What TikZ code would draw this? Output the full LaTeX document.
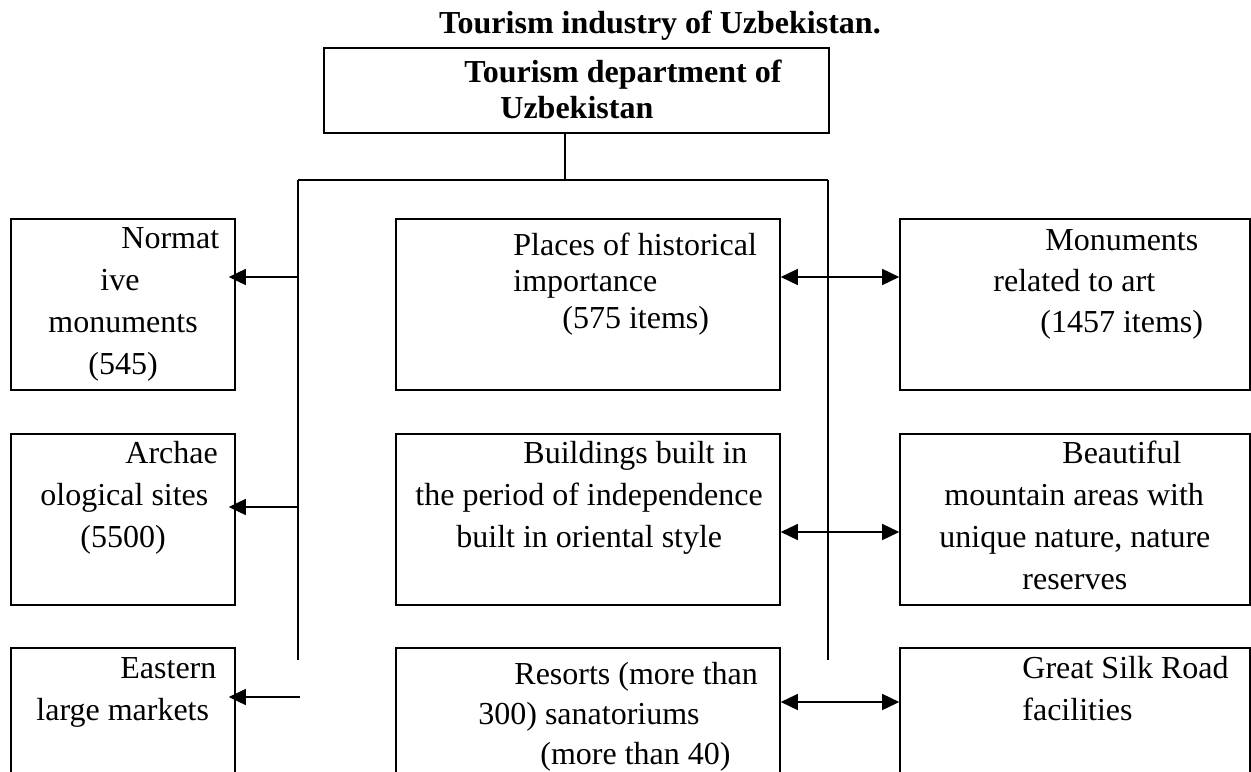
\documentclass[tikz,border=0pt]{standalone}
\usepackage{fontspec}
\setmainfont{Liberation Serif}
\usepackage{tikz}
\usetikzlibrary{arrows.meta}
\tikzstyle{box} = [rectangle, draw, line width=0.8pt, inner sep=0pt, minimum height=85.5pt]
\tikzstyle{leftbox} = [box, minimum width=112pt]
\tikzstyle{midbox} = [box, minimum width=192pt]
\tikzstyle{rightbox} = [box, minimum width=175pt]
\tikzstyle{boxtext} = [anchor=north west, inner sep=0pt, align=left, font=\fontsize{16}{21}\selectfont]
\tikzstyle{wire} = [line width=0.75pt]
\tikzstyle{arrow} = [wire, -{Triangle[length=8.5pt,width=8pt]}]
\tikzstyle{biarrow} = [wire, {Triangle[length=8.5pt,width=8pt]}-{Triangle[length=8.5pt,width=8pt]}]

\begin{document}
\begin{tikzpicture}[x=0.5pt, y=-0.5pt]
\useasboundingbox (0,0) rectangle (1251,771);
\clip (0,0) rectangle (1251,771);

% Title
\node (title) at (660,26) {\fontsize{16}{18}\selectfont\bfseries Tourism industry of Uzbekistan.};

% Department
\node (dept) [box, minimum width=252.5pt, minimum height=42.5pt] at (576.5,90.5) {};
\node (deptt) [boxtext, font=\fontsize{16}{18}\selectfont\bfseries] at (464,56.8) {\strut Tourism department of\\\hspace*{18pt}Uzbekistan};

% Left column
\node (norm) [leftbox] at (123,304.5) {};
\node (normt) [boxtext] at (48,218.6) {\strut\hspace*{36.5pt}Normat\\\hspace*{26pt}ive\\monuments\\\hspace*{20pt}(545)};
\node (arch) [leftbox] at (123,519.5) {};
\node (archt) [boxtext] at (40,433.6) {\strut\hspace*{42.5pt}Archae\\ological sites\\\hspace*{20pt}(5500)};
\node (mark) [leftbox] at (123,733.5) {};
\node (markt) [boxtext] at (36,648.6) {\strut\hspace*{42pt}Eastern\\large markets};

% Middle column
\node (hist) [midbox] at (588,304.5) {};
\node (histt) [boxtext, font=\fontsize{16}{18.25}\selectfont] at (513,229.5) {\strut Places of historical\\importance\\\hspace*{24.5pt}(575 items)};
\node (indep) [midbox] at (588,519.5) {};
\node (indept) [boxtext] at (415,433.6) {\strut\hspace*{54pt}Buildings built in\\the period of independence\\\hspace*{20.5pt}built in oriental style};
\node (resort) [midbox] at (588,733.5) {};
\node (resortt) [boxtext, font=\fontsize{16}{20}\selectfont] at (478,655.6) {\strut\hspace*{18pt}Resorts (more than\\300) sanatoriums\\\hspace*{31pt}(more than 40)};

% Right column
\node (art) [rightbox] at (1075,304.5) {};
\node (artt) [boxtext, font=\fontsize{16}{20.5}\selectfont] at (993,221.1) {\strut\hspace*{26pt}Monuments\\related to art\\\hspace*{23.5pt}(1457 items)};
\node (nature) [rightbox] at (1075,519.5) {};
\node (naturet) [boxtext] at (939,433.6) {\strut\hspace*{61.5pt}Beautiful\\\hspace*{2.5pt}mountain areas with\\unique nature, nature\\\hspace*{41.5pt}reserves};
\node (silk) [rightbox] at (1075,733.5) {};
\node (silkt) [boxtext] at (1022,648.6) {\strut Great Silk Road\\facilities};

% Bus lines
\coordinate (hub) at (565,180);
\coordinate (busL) at (298,180);
\coordinate (busR) at (828,180);
\coordinate (endL) at (298,660);
\coordinate (endR) at (828,660);
\draw [wire] (dept.south -| hub) -- (hub);
\draw [wire] (busL) -- (busR);
\draw [wire] (busL) -- (endL);
\draw [wire] (busR) -- (endR);

% Arrows to the left
\coordinate (la1) at (298,277);
\coordinate (la2) at (298,507);
\coordinate (la3) at (300,697);
\draw [arrow, shorten >=-3.5pt] (la1) -- (norm.east |- la1);
\draw [arrow, shorten >=-3.5pt] (la2) -- (arch.east |- la2);
\draw [arrow, shorten >=-3.5pt] (la3) -- (mark.east |- la3);

% Arrows both ways
\coordinate (ra1) at (828,277);
\coordinate (ra2) at (828,532);
\coordinate (ra3) at (828,702);
\draw [biarrow] (hist.east |- ra1) -- (art.west |- ra1);
\draw [biarrow] (indep.east |- ra2) -- (nature.west |- ra2);
\draw [biarrow] (resort.east |- ra3) -- (silk.west |- ra3);

\end{tikzpicture}
\end{document}
